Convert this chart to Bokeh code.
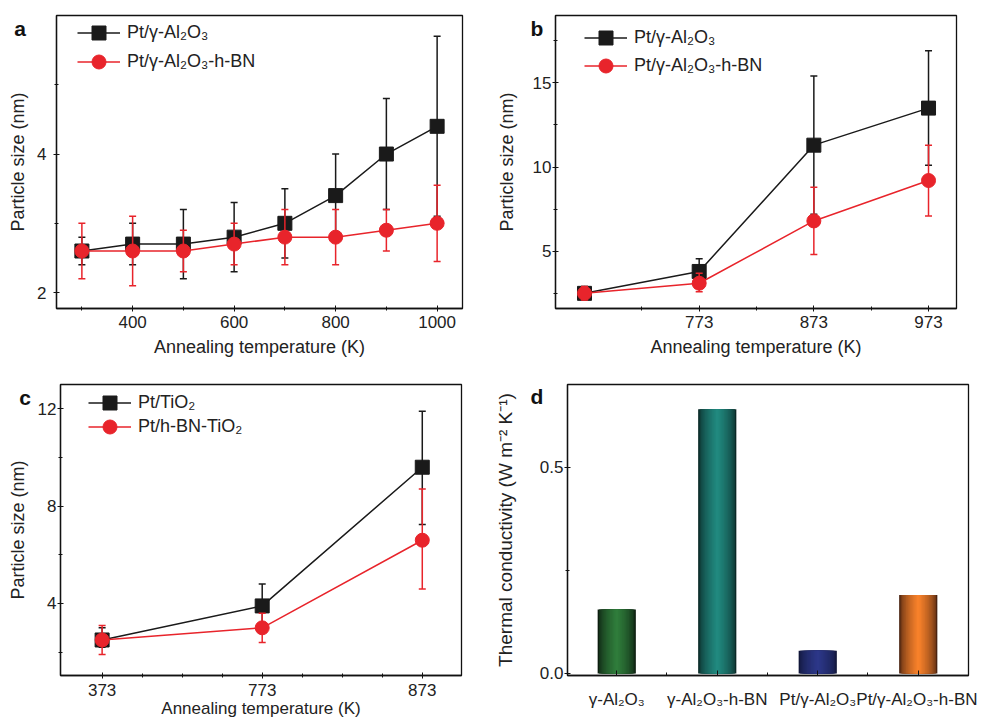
from bokeh.plotting import figure
from bokeh.layouts import column, row
from bokeh.models import (Range1d, FixedTicker, Legend, LegendItem, Div,
                          NumeralTickFormatter)
from bokeh.embed import file_html
from bokeh.resources import INLINE

FONT = "Liberation Sans"
BLACK = "#1a1a1a"
RED = "#e8242b"
TXT = "#222222"

# ---------------- data ----------------
# panel a
temps_a = [300, 400, 500, 600, 700, 800, 900, 1000]
a_pt = [2.6, 2.7, 2.7, 2.8, 3.0, 3.4, 4.0, 4.4]
a_pt_lo = [2.4, 2.4, 2.2, 2.3, 2.5, 2.8, 3.2, 3.1]
a_pt_hi = [2.8, 3.0, 3.2, 3.3, 3.5, 4.0, 4.8, 5.7]
a_bn = [2.6, 2.6, 2.6, 2.7, 2.8, 2.8, 2.9, 3.0]
a_bn_lo = [2.2, 2.1, 2.3, 2.4, 2.4, 2.4, 2.6, 2.45]
a_bn_hi = [3.0, 3.1, 2.9, 3.0, 3.2, 3.2, 3.2, 3.55]

# panel b
temps_b = [673, 773, 873, 973]
b_ticks = [773, 873, 973]
b_pt = [2.5, 3.8, 11.3, 13.5]
b_pt_lo = [2.1, 3.1, 7.2, 10.1]
b_pt_hi = [2.9, 4.55, 15.4, 16.9]
b_bn = [2.5, 3.1, 6.8, 9.2]
b_bn_lo = [2.1, 2.6, 4.8, 7.1]
b_bn_hi = [2.9, 3.7, 8.8, 11.3]

# panel c
temps_c = ["373", "773", "873"]
c_pt = [2.5, 3.9, 9.6]
c_pt_lo = [2.2, 3.0, 7.25]
c_pt_hi = [3.0, 4.8, 11.9]
c_bn = [2.5, 3.0, 6.6]
c_bn_lo = [1.9, 2.4, 4.6]
c_bn_hi = [3.1, 3.6, 8.7]

# panel d
cats_d = ["γ-Al₂O₃", "γ-Al₂O₃-h-BN", "Pt/γ-Al₂O₃", "Pt/γ-Al₂O₃-h-BN"]
cond_d = [0.155, 0.64, 0.055, 0.19]
bar_center = ["#2f7c3b", "#21897f", "#2c3788", "#f7812a"]
bar_edge = ["#0c1d0f", "#0a2826", "#111639", "#4a2310"]

lbl_a = ["Pt/γ-Al₂O₃", "Pt/γ-Al₂O₃-h-BN"]
lbl_c = ["Pt/TiO₂", "Pt/h-BN-TiO₂"]

panel_letters = ["a", "b", "c", "d"]


def make_fig(w, h, l, r, t, b, xr, yr):
    p = figure(width=w, height=h, x_range=Range1d(*xr), y_range=Range1d(*yr),
               output_backend="svg", toolbar_location=None, tools="",
               min_border_left=l, min_border_right=r, min_border_top=t,
               min_border_bottom=b)
    p.xgrid.visible = False
    p.ygrid.visible = False
    p.outline_line_color = "#111111"
    p.outline_line_width = 1.3
    p.outline_line_alpha = 1
    for ax in (p.xaxis[0], p.yaxis[0]):
        ax.axis_line_color = "#111111"
        ax.axis_line_width = 1.3
        ax.major_tick_line_color = "#111111"
        ax.minor_tick_line_color = "#111111"
        ax.major_tick_in = 3
        ax.major_tick_out = 3
        ax.minor_tick_in = 2
        ax.minor_tick_out = 2
        ax.major_label_text_font = FONT
        ax.major_label_text_font_size = "17px"
        ax.major_label_text_color = TXT
        ax.axis_label_text_font = FONT
        ax.axis_label_text_font_size = "18px"
        ax.axis_label_text_font_style = "normal"
        ax.axis_label_text_color = TXT
    return p


def series(p, x, y, lo, hi, color, marker):
    p.segment(x0=x, y0=lo, x1=x, y1=hi, line_color=color, line_width=1.5)
    p.scatter(x=x, y=lo, marker="dash", size=7, line_color=color, line_width=1.5)
    p.scatter(x=x, y=hi, marker="dash", size=7, line_color=color, line_width=1.5)
    ln = p.line(x=x, y=y, line_color=color, line_width=1.5)
    sc = p.scatter(x=x, y=y, marker=marker, size=14, fill_color=color,
                   line_color=color)
    return [ln, sc]


def add_leg(p, label, rends, x, vy):
    lg = Legend(items=[LegendItem(label=label, renderers=rends)],
                location=(x, vy), margin=0, padding=0, glyph_width=43,
                glyph_height=35, label_height=35, label_standoff=7,
                border_line_alpha=0, background_fill_alpha=0,
                label_text_font=FONT, label_text_font_size="18px",
                label_text_color=TXT)
    p.add_layout(lg)


# ---------------- panel a ----------------
pa = make_fig(490, 372, 56, 28, 15, 59, (250, 1050), (1.77, 6.0))
pa.xaxis[0].ticker = FixedTicker(ticks=[400, 600, 800, 1000],
                                 minor_ticks=[300, 500, 700, 900])
pa.yaxis[0].ticker = FixedTicker(ticks=[2, 4], minor_ticks=[3, 5])
pa.xaxis[0].axis_label = "Annealing temperature (K)"
pa.yaxis[0].axis_label = "Particle size (nm)"
pa.xaxis[0].major_label_standoff = 4
pa.xaxis[0].axis_label_standoff = 6
pa.yaxis[0].major_label_standoff = 7
pa.yaxis[0].axis_label_standoff = 6
ra1 = series(pa, temps_a, a_pt, a_pt_lo, a_pt_hi, BLACK, "square")
ra2 = series(pa, temps_a, a_bn, a_bn_lo, a_bn_hi, RED, "circle")
add_leg(pa, lbl_a[0], ra1, 21, 258)
add_leg(pa, lbl_a[1], ra2, 21, 229)

# ---------------- panel b ----------------
pb = make_fig(487, 372, 65, 21, 14, 64, (647.7, 997.4), (1.6, 19.0))
pb.xaxis[0].ticker = FixedTicker(ticks=b_ticks, minor_ticks=[723, 823, 923])
pb.yaxis[0].ticker = FixedTicker(ticks=[5, 10, 15],
                                 minor_ticks=[2.5, 7.5, 12.5, 17.5])
pb.xaxis[0].axis_label = "Annealing temperature (K)"
pb.yaxis[0].axis_label = "Particle size (nm)"
pb.xaxis[0].major_label_standoff = 4
pb.xaxis[0].axis_label_standoff = 6
pb.yaxis[0].major_label_standoff = 1
pb.yaxis[0].axis_label_standoff = 13
rb1 = series(pb, temps_b, b_pt, b_pt_lo, b_pt_hi, BLACK, "square")
rb2 = series(pb, temps_b, b_bn, b_bn_lo, b_bn_hi, RED, "circle")
add_leg(pb, lbl_a[0], rb1, 29, 253)
add_leg(pb, lbl_a[1], rb2, 29, 225)

# ---------------- panel c ----------------
xc = list(range(len(temps_c)))
pc = make_fig(490, 348, 60, 29, 10, 44, (-0.26, 2.245), (1.04, 13.0))
pc.xaxis[0].ticker = FixedTicker(ticks=xc,
                                 minor_ticks=[0.25, 0.5, 0.75, 1.25, 1.5, 1.75])
pc.xaxis[0].major_label_overrides = {i: t for i, t in enumerate(temps_c)}
pc.yaxis[0].ticker = FixedTicker(ticks=[4, 8, 12], minor_ticks=[2, 6, 10])
pc.xaxis[0].axis_label = "Annealing temperature (K)"
pc.yaxis[0].axis_label = "Particle size (nm)"
pc.xaxis[0].major_label_standoff = 5
pc.xaxis[0].axis_label_standoff = 0
pc.xaxis[0].axis_label_text_font_size = "17px"
pc.yaxis[0].major_label_standoff = 1
pc.yaxis[0].axis_label_standoff = 7
rc1 = series(pc, xc, c_pt, c_pt_lo, c_pt_hi, BLACK, "square")
rc2 = series(pc, xc, c_bn, c_bn_lo, c_bn_hi, RED, "circle")
add_leg(pc, lbl_c[0], rc1, 28, 255)
add_leg(pc, lbl_c[1], rc2, 28, 231)

# ---------------- panel d ----------------
xd = list(range(len(cats_d)))
pd_ = make_fig(487, 348, 77, 9, 12, 41, (-0.49, 3.5), (-0.005, 0.7))
pd_.xaxis[0].ticker = FixedTicker(ticks=xd, minor_ticks=[0.5, 1.5, 2.5])
pd_.xaxis[0].major_label_overrides = {i: t for i, t in enumerate(cats_d)}
pd_.xaxis[0].major_label_text_font_size = "17px"
pd_.xaxis[0].major_tick_in = 5
pd_.xaxis[0].major_tick_out = 0
pd_.xaxis[0].minor_tick_in = 3
pd_.xaxis[0].minor_tick_out = 0
pd_.xaxis[0].major_label_standoff = 14
pd_.yaxis[0].ticker = FixedTicker(ticks=[0, 0.5], minor_ticks=[0.25])
pd_.yaxis[0].formatter = NumeralTickFormatter(format="0.0")
pd_.yaxis[0].axis_label = "Thermal conductivity (W m⁻² K⁻¹)"
pd_.yaxis[0].axis_label_text_font_size = "19px"
pd_.yaxis[0].major_label_standoff = 1
pd_.yaxis[0].axis_label_standoff = 21


def mix(c1, c2, f):
    a = [int(c1[i:i + 2], 16) for i in (1, 3, 5)]
    b = [int(c2[i:i + 2], 16) for i in (1, 3, 5)]
    return "#%02x%02x%02x" % tuple(int(round(a[j] + (b[j] - a[j]) * f)) for j in range(3))


BAR_W = 0.38
N = 14
for k in range(N):
    f = (k / (N - 1)) ** 0.55
    cols = [mix(bar_edge[i], bar_center[i], f) for i in range(len(cats_d))]
    pd_.vbar(x=xd, top=cond_d, bottom=0, width=BAR_W * (1 - k / N),
             fill_color=cols, line_color=None)

# ---------------- panel letters (overlay) ----------------
letter_pos = [(20, 28), (537, 28), (25, 397), (537, 396)]
spans = "".join(
    '<span style="position:absolute;left:%dpx;top:%dpx;'
    'transform:translate(-50%%,-50%%);font-family:\'Liberation Sans\',Arial,sans-serif;'
    'font-weight:bold;font-size:21px;line-height:1;color:#111111">%s</span>'
    % (x, y, t) for t, (x, y) in zip(panel_letters, letter_pos))
TOTAL_W = 977
TOTAL_H = 720
overlay = Div(text='<div style="position:relative;width:%dpx;height:%dpx;'
                   'pointer-events:none">%s</div>' % (TOTAL_W, TOTAL_H, spans),
              width=TOTAL_W, height=TOTAL_H, margin=(-TOTAL_H, 0, 0, 0))

layout = column(row(pa, pb, spacing=0), row(pc, pd_, spacing=0), overlay,
                spacing=0)

with open("out.html", "w") as fh:
    fh.write(file_html(layout, INLINE))
